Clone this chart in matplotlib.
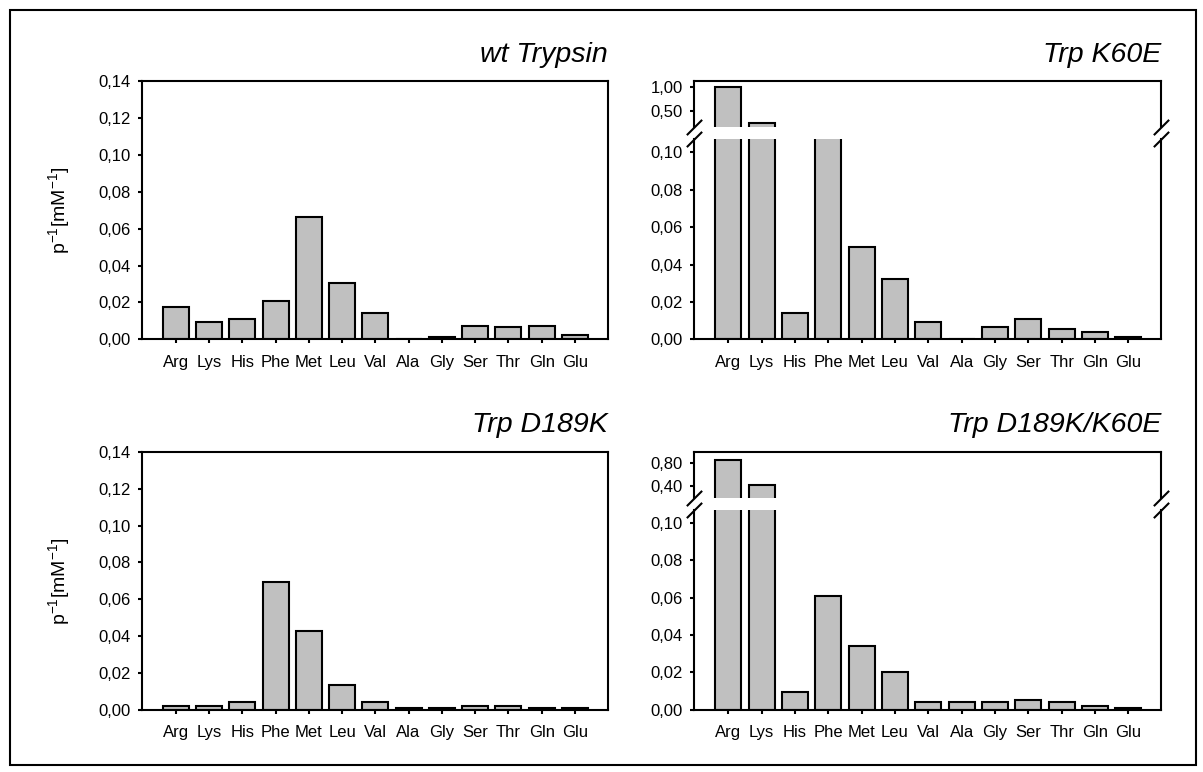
import matplotlib.pyplot as plt
from matplotlib.patches import Rectangle
from matplotlib.ticker import FuncFormatter

# amino acids on the x axis
amino = ['Arg', 'Lys', 'His', 'Phe', 'Met', 'Leu', 'Val', 'Ala', 'Gly', 'Ser', 'Thr', 'Gln', 'Glu']

# p^-1 values
wt_trypsin = [0.0174, 0.0096, 0.011, 0.0208, 0.0662, 0.0304, 0.0141, 0.0003, 0.001, 0.0074, 0.0065, 0.0074, 0.0022]
trp_k60e = [1.00, 0.26, 0.0139, 0.13, 0.0492, 0.0321, 0.0094, 0.0003, 0.0066, 0.0109, 0.0055, 0.0041, 0.0013]
trp_d189k = [0.0022, 0.0022, 0.0043, 0.0696, 0.0425, 0.0132, 0.0043, 0.0011, 0.001, 0.002, 0.002, 0.001, 0.001]
trp_d189k_k60e = [0.85, 0.41, 0.0097, 0.0611, 0.0344, 0.0204, 0.0043, 0.0043, 0.0043, 0.0054, 0.0043, 0.002, 0.001]

titles = ['wt Trypsin', 'Trp K60E', 'Trp D189K', 'Trp D189K/K60E']
low_ticks = [0.0, 0.02, 0.04, 0.06, 0.08, 0.10, 0.12, 0.14]
k60e_top_ticks = [0.5, 1.0]
double_top_ticks = [0.4, 0.8]

W, H = 1203, 772
BAR_COLOR = '#c0c0c0'
LW = 1.5

plt.rcParams['font.family'] = ['Liberation Sans', 'DejaVu Sans']
plt.rcParams['mathtext.fontset'] = 'custom'
plt.rcParams['mathtext.rm'] = 'Liberation Sans'
plt.rcParams['mathtext.default'] = 'regular'
fig = plt.figure(figsize=(W / 100, H / 100), dpi=100)

comma = FuncFormatter(lambda v, p: ('%.2f' % v).replace('.', ','))
xs = list(range(len(amino)))


def px_axes(left, top, width, height):
    return fig.add_axes([left / W, 1 - (top + height) / H, width / W, height / H])


def style(ax):
    for s in ax.spines.values():
        s.set_linewidth(LW)
    ax.tick_params(axis='y', direction='out', length=3, width=LW, pad=5, labelsize=12)
    ax.tick_params(axis='x', direction='out', length=3, width=LW, pad=8, labelsize=12)
    ax.yaxis.set_major_formatter(comma)
    ax.set_xlim(-1.03, 12.98)


def bars(ax, vals):
    ax.bar(xs, vals, width=0.78, color=BAR_COLOR, edgecolor='black', linewidth=LW)


def simple_panel(left, top, vals, title):
    ax = px_axes(left, top, 466, 258)
    bars(ax, vals)
    style(ax)
    ax.set_ylim(0, 0.14)
    ax.set_yticks(low_ticks)
    ax.set_xticks(xs)
    ax.set_xticklabels(amino)
    ax.set_title(title, loc='right', fontsize=20.5, fontstyle='italic', pad=14)
    return ax


def broken_panel(left, top, vals, title, top_ticks, top_lim):
    up = px_axes(left, top, 467, 46)
    lo = px_axes(left, top + 58, 467, 200)
    bars(up, vals)
    bars(lo, vals)
    style(up)
    style(lo)
    up.set_ylim(*top_lim)
    up.set_yticks(top_ticks)
    up.set_xticks([])
    up.spines['bottom'].set_visible(False)
    lo.set_ylim(0, 0.107)
    lo.set_yticks(low_ticks[:6])
    lo.set_xticks(xs)
    lo.set_xticklabels(amino)
    lo.spines['top'].set_visible(False)
    # break marks on both sides
    mk = dict(marker=[(-1, -1), (1, 1)], markersize=11, linestyle='none',
              color='k', mec='k', mew=LW, clip_on=False)
    up.plot([0, 1], [0, 0], transform=up.transAxes, **mk)
    lo.plot([0, 1], [1, 1], transform=lo.transAxes, **mk)
    up.set_title(title, loc='right', fontsize=20.5, fontstyle='italic', pad=14)
    return up, lo


simple_panel(141.5, 81.3, wt_trypsin, titles[0])
broken_panel(694, 81.3, trp_k60e, titles[1], k60e_top_ticks, (0.165, 1.13))
simple_panel(141.5, 451.8, trp_d189k, titles[2])
broken_panel(694, 451.8, trp_d189k_k60e, titles[3], double_top_ticks, (0.19, 0.99))

ylab = r'p$^{-1}$[mM$^{-1}$]'
fig.text(59 / W, 1 - 210 / H, ylab, rotation=90, ha='center', va='center', fontsize=14)
fig.text(59 / W, 1 - 581 / H, ylab, rotation=90, ha='center', va='center', fontsize=14)

# frame around the whole figure
fig.patches.append(Rectangle((9.5 / W, 1 - 765 / H), (1196 - 9.5) / W, (765 - 10) / H,
                             transform=fig.transFigure, fill=False, lw=LW, edgecolor='black'))

plt.savefig('out.png', dpi=100)
